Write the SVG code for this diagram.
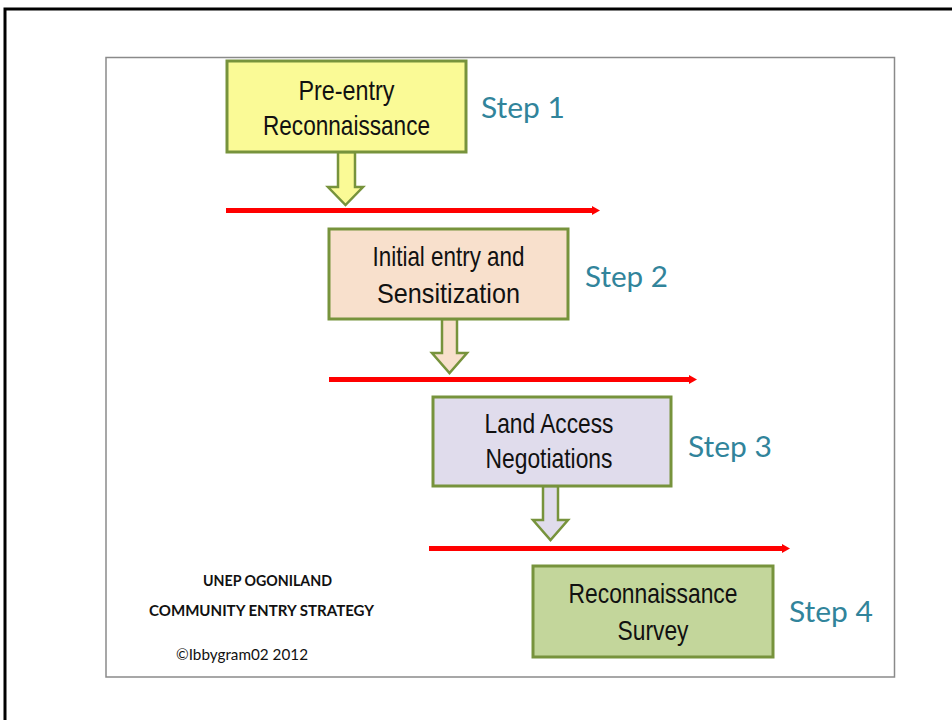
<svg xmlns="http://www.w3.org/2000/svg" width="952" height="720" viewBox="0 0 952 720">
<style>
.box{stroke:#77933C;stroke-width:3}
.lbl{font-family:"Liberation Sans",Arial,sans-serif;font-size:28px;fill:#111;text-anchor:middle}
.step{font-family:Lato,"Open Sans",sans-serif;font-size:29px;fill:#31849B}
.blk{stroke:#77933C;stroke-width:2.5;stroke-linejoin:miter}
.red{stroke:#FF0000;stroke-width:5;fill:none;marker-end:url(#rh)}
.note{font-family:Lato,"Open Sans",sans-serif;font-size:16px;fill:#111;text-anchor:middle}
</style>
<defs>
<marker id="rh" markerUnits="userSpaceOnUse" markerWidth="10" markerHeight="12" refX="1" refY="6" orient="auto">
<path d="M0,1.5 L8,6 L0,10.5 Z" fill="#FF0000"/>
</marker>
</defs>
<rect x="0" y="0" width="952" height="720" fill="#fff"/>
<rect x="5" y="9" width="980" height="740" fill="none" stroke="#000" stroke-width="3"/>
<rect x="106" y="57.5" width="788.5" height="619.5" fill="#fff" stroke="#8a8a8a" stroke-width="1.5"/>

<g id="connectors">
<path class="blk" fill="#FAFA96" d="M338,152 L355,152 L355,187 L363,187 L345.5,205 L328,187 L338,187 Z"/>
<path class="red" d="M226,210.5 L593,210.5"/>
<path class="blk" fill="#F8E0CC" d="M442,319 L457,319 L457,353 L467,353 L449.5,373 L432,353 L442,353 Z"/>
<path class="red" d="M329,379.5 L690,379.5"/>
<path class="blk" fill="#E0DCEC" d="M543,486 L558,486 L558,520 L568,520 L550.5,540 L533,520 L543,520 Z"/>
<path class="red" d="M429,548.5 L783,548.5"/>
</g>

<g id="step1">
<rect class="box" x="227" y="61" width="239" height="91" fill="#FAFA96"/>
<text class="lbl" x="346.5" y="100" textLength="96" lengthAdjust="spacingAndGlyphs">Pre-entry</text>
<text class="lbl" x="346.5" y="135" textLength="167" lengthAdjust="spacingAndGlyphs">Reconnaissance</text>
<text class="step" x="481" y="118" textLength="84" lengthAdjust="spacingAndGlyphs">Step 1</text>
</g>

<g id="step2">
<rect class="box" x="329" y="229" width="239" height="90" fill="#F8E0CC"/>
<text class="lbl" x="448.5" y="266" textLength="152" lengthAdjust="spacingAndGlyphs">Initial entry and</text>
<text class="lbl" x="448.5" y="303" textLength="143" lengthAdjust="spacingAndGlyphs">Sensitization</text>
<text class="step" x="585" y="287" textLength="83" lengthAdjust="spacingAndGlyphs">Step 2</text>
</g>

<g id="step3">
<rect class="box" x="433" y="397" width="238" height="89" fill="#E0DCEC"/>
<text class="lbl" x="549" y="433" textLength="129" lengthAdjust="spacingAndGlyphs">Land Access</text>
<text class="lbl" x="549" y="468" textLength="127" lengthAdjust="spacingAndGlyphs">Negotiations</text>
<text class="step" x="688" y="457" textLength="84" lengthAdjust="spacingAndGlyphs">Step 3</text>
</g>

<g id="step4">
<rect class="box" x="533" y="566" width="240" height="91" fill="#C3D69B"/>
<text class="lbl" x="653" y="603" textLength="169" lengthAdjust="spacingAndGlyphs">Reconnaissance</text>
<text class="lbl" x="653" y="640" textLength="71" lengthAdjust="spacingAndGlyphs">Survey</text>
<text class="step" x="789" y="622" textLength="84" lengthAdjust="spacingAndGlyphs">Step 4</text>
</g>

<g id="caption">
<text class="note" x="267.5" y="586" font-weight="bold" textLength="129" lengthAdjust="spacingAndGlyphs">UNEP OGONILAND</text>
<text class="note" x="261.5" y="616" font-weight="bold" textLength="225" lengthAdjust="spacingAndGlyphs">COMMUNITY ENTRY STRATEGY</text>
<text class="note" x="242" y="660" textLength="132" lengthAdjust="spacingAndGlyphs">©Ibbygram02 2012</text>
</g>
</svg>
